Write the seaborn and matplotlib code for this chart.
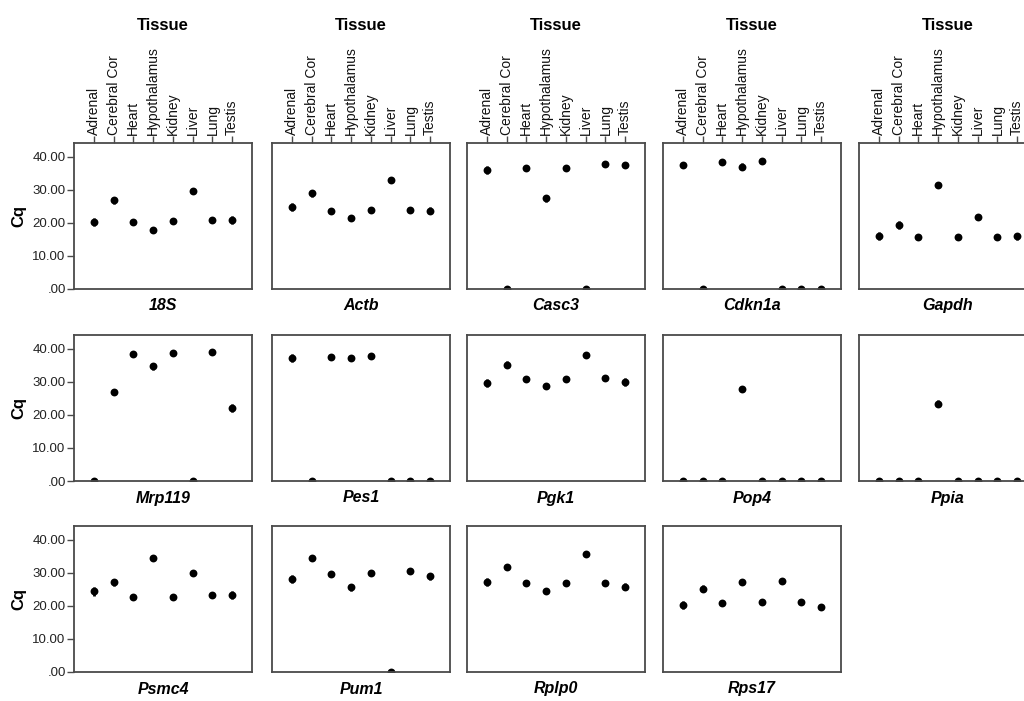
import pandas as pd
import seaborn as sns
import matplotlib.pyplot as plt

tissues = ["Adrenal", "Cerebral Cor", "Heart", "Hypothalamus", "Kidney", "Liver", "Lung", "Testis"]
genes = ["18S", "Actb", "Casc3", "Cdkn1a", "Gapdh",
         "Mrp119", "Pes1", "Pgk1", "Pop4", "Ppia",
         "Psmc4", "Pum1", "Rplp0", "Rps17"]

# mean Cq per tissue (0 = not detected)
cq_18s = [20.3, 26.8, 20.4, 17.8, 20.6, 29.8, 21.0, 21.0]
cq_actb = [24.7, 29.0, 23.5, 21.5, 23.8, 32.9, 24.0, 23.7]
cq_casc3 = [35.9, 0, 36.5, 27.4, 36.7, 0, 37.7, 37.5]
cq_cdkn1a = [37.5, 0, 38.3, 37.0, 38.7, 0, 0, 0]
cq_gapdh = [16.1, 19.4, 15.6, 31.5, 15.7, 21.7, 15.8, 15.9]
cq_mrp119 = [0, 27.0, 38.4, 34.7, 38.6, 0, 39.0, 22.2]
cq_pes1 = [37.1, 0, 37.6, 37.3, 37.9, 0, 0, 0]
cq_pgk1 = [29.7, 35.2, 30.8, 28.9, 30.9, 38.2, 31.1, 29.9]
cq_pop4 = [0, 0, 0, 27.9, 0, 0, 0, 0]
cq_ppia = [0, 0, 0, 23.4, 0, 0, 0, 0]
cq_psmc4 = [24.4, 27.1, 22.6, 34.5, 22.8, 29.9, 23.2, 23.2]
cq_pum1 = [28.2, 34.5, 29.8, 25.6, 30.0, 0, 30.6, 29.0]
cq_rplp0 = [27.2, 31.8, 26.8, 24.4, 26.9, 35.8, 26.9, 25.8]
cq_rps17 = [20.3, 25.2, 21.0, 27.2, 21.1, 27.7, 21.1, 19.7]

# error bar half-lengths
err_18s = [1.3, 1.0, 0.6, 0.9, 0.5, 0.6, 0.5, 1.2]
err_actb = [1.2, 1.0, 0.7, 1.0, 0.5, 0.8, 0.5, 1.0]
err_casc3 = [1.2, 0, 0.6, 1.0, 0.5, 0, 0.5, 0.5]
err_cdkn1a = [0.5, 0, 0.5, 1.0, 0.6, 0, 0, 0]
err_gapdh = [1.2, 1.2, 0.6, 1.0, 0.5, 0.8, 0.4, 1.2]
err_mrp119 = [0, 1.0, 0.7, 1.0, 0.5, 0, 0.4, 1.2]
err_pes1 = [1.2, 0, 0.6, 0.9, 0.5, 0, 0, 0]
err_pgk1 = [1.2, 1.0, 0.6, 0.9, 0.5, 0.8, 0.4, 1.2]
err_pop4 = [0, 0, 0, 0.9, 0, 0, 0, 0]
err_ppia = [0, 0, 0, 1.0, 0, 0, 0, 0]
err_psmc4 = [1.3, 1.1, 0.5, 0.9, 0.5, 0.8, 0.4, 1.2]
err_pum1 = [1.3, 1.0, 0.7, 1.0, 0.5, 0, 0.4, 1.0]
err_rplp0 = [1.2, 1.0, 0.5, 0.9, 0.5, 0.8, 0.4, 1.0]
err_rps17 = [1.3, 1.0, 0.5, 0.9, 0.5, 0.8, 0.4, 1.0]

y_ticks = [0, 10, 20, 30, 40]
y_tick_labels = [".00", "10.00", "20.00", "30.00", "40.00"]

means = [cq_18s, cq_actb, cq_casc3, cq_cdkn1a, cq_gapdh, cq_mrp119, cq_pes1,
         cq_pgk1, cq_pop4, cq_ppia, cq_psmc4, cq_pum1, cq_rplp0, cq_rps17]
errs = [err_18s, err_actb, err_casc3, err_cdkn1a, err_gapdh, err_mrp119, err_pes1,
        err_pgk1, err_pop4, err_ppia, err_psmc4, err_pum1, err_rplp0, err_rps17]

rows = []
for g, m, e in zip(genes, means, errs):
    for t, v, s in zip(tissues, m, e):
        rows.append({"gene": g, "tissue": t, "cq": v, "err": s})
df = pd.DataFrame(rows)

sns.set_style("white")
plt.rcParams["font.family"] = ["Liberation Sans", "DejaVu Sans"]
plt.rcParams["text.color"] = "black"

W, H = 1024, 701
fig = plt.figure(figsize=(W / 100, H / 100), dpi=100)

col_left = [74, 272, 467, 663, 859]
row_top = [143, 335, 526]
ax_w, ax_h = 178, 146
frame_col = "#4a4a4a"

for i, gene in enumerate(genes):
    r, c = divmod(i, 5)
    x0 = col_left[c] / W
    y0 = 1 - (row_top[r] + ax_h) / H
    ax = fig.add_axes([x0, y0, ax_w / W, ax_h / H])
    sub = df[df["gene"] == gene]

    ax.errorbar(sub["tissue"], sub["cq"], yerr=sub["err"], fmt="none",
                ecolor="black", elinewidth=2.0, capsize=0)
    sns.scatterplot(data=sub, x="tissue", y="cq", ax=ax, color="black",
                    s=32, linewidth=0, legend=False)

    ax.set_xlim(-1, 8)
    ax.set_ylim(0, 44.2)
    ax.set_xticks(range(len(tissues)))
    ax.set_xticklabels(tissues)
    ax.xaxis.tick_top()
    ax.tick_params(axis="x", top=(r == 0), labeltop=(r == 0), bottom=False,
                   rotation=90, length=5, width=1, color=frame_col,
                   labelsize=10, pad=1, labelcolor="#111111")
    ax.set_yticks(y_ticks)
    if c == 0:
        ax.set_yticklabels(y_tick_labels)
        ax.tick_params(axis="y", left=True, length=5, width=1, color=frame_col,
                       labelsize=9.5, pad=1, labelcolor="#222222")
    else:
        ax.tick_params(axis="y", left=False, labelleft=False)
    ax.set_xlabel("")
    ax.set_ylabel("")
    for sp in ax.spines.values():
        sp.set_color(frame_col)
        sp.set_linewidth(1.3)

    ax.text(0.5, -17 / ax_h, gene, transform=ax.transAxes, ha="center",
            va="center", fontsize=11.5, fontweight="bold", style="italic",
            color="black")

    if r == 0:
        fig.text((col_left[c] + ax_w / 2) / W, 1 - 25 / H, "Tissue",
                 ha="center", va="center", fontsize=12, fontweight="bold",
                 color="black")

for r in range(3):
    fig.text(19 / W, 1 - (row_top[r] + ax_h / 2) / H, "Cq", rotation=90,
             ha="center", va="center", fontsize=12, fontweight="bold",
             color="black")

fig.savefig("out.png", dpi=100)
